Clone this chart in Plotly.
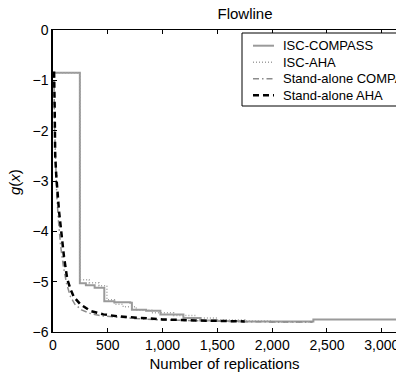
import plotly.graph_objects as go

# ---- data ----
isc_compass_x = [0, 245, 300, 380, 468, 560, 705, 720, 850, 980, 1190, 1343, 1500, 1700, 2376, 3500]
isc_compass_y = [-0.85, -5.03, -5.07, -5.12, -5.39, -5.41, -5.42, -5.56, -5.58, -5.65, -5.72, -5.77, -5.78, -5.79, -5.75, -5.75]

isc_aha_x = [0, 245, 330, 420, 492, 560, 640, 760, 900, 1100, 1300, 1500, 1750, 2000, 2370]
isc_aha_y = [-0.85, -4.96, -5.02, -5.08, -5.36, -5.45, -5.50, -5.57, -5.62, -5.67, -5.72, -5.76, -5.78, -5.80, -5.80]

sa_compass_x = [0, 8, 15, 25, 35, 50, 70, 95, 125, 160, 200, 260, 350, 450, 600, 800, 1000, 1300, 1600, 2000, 2370]
sa_compass_y = [-0.85, -0.85, -2.0, -2.8, -3.3, -3.8, -4.3, -4.7, -5.05, -5.3, -5.45, -5.56, -5.64, -5.68, -5.71, -5.74, -5.76, -5.78, -5.79, -5.80, -5.80]

sa_aha_x = [0, 10, 15, 20, 30, 40, 55, 75, 100, 130, 160, 190, 250, 340, 460, 600, 800, 1000, 1300, 1600, 1750]
sa_aha_y = [-0.85, -0.85, -1.5, -2.5, -2.9, -3.2, -3.6, -4.0, -4.5, -4.95, -5.15, -5.3, -5.45, -5.58, -5.65, -5.69, -5.72, -5.75, -5.77, -5.78, -5.79]

series_names = ["ISC-COMPASS", "ISC-AHA", "Stand-alone COMPASS", "Stand-alone AHA"]
x_ticks = [0, 500, 1000, 1500, 2000, 2500, 3000]
y_ticks = [0, -1, -2, -3, -4, -5, -6]

FONT = "Liberation Sans, Arial, Helvetica, sans-serif"

# figure geometry in pixels
W, H = 396, 374
L, R, T, B = 53, 0, 30, 42
PW, PH = W - L - R, H - T - B


def px_x(p):
    return (p - L) / PW


def px_y(p):
    return (H - B - p) / PH


styles = [
    dict(color="#9a9a9a", width=2, dash="solid"),
    dict(color="#a0a0a0", width=1.5, dash="1px,2px"),
    dict(color="#8c8c8c", width=1.5, dash="6px,3px,1.5px,3px"),
    dict(color="#000000", width=2.5, dash="6px,4px"),
]
shapes_hv = ["hv", "hv", "linear", "linear"]
xs = [isc_compass_x, isc_aha_x, sa_compass_x, sa_aha_x]
ys = [isc_compass_y, isc_aha_y, sa_compass_y, sa_aha_y]

fig = go.Figure()
for name, x, y, st, sh in zip(series_names, xs, ys, styles, shapes_hv):
    fig.add_trace(go.Scatter(x=x, y=y, name=name, mode="lines", showlegend=False,
                             line=dict(color=st["color"], width=st["width"], dash=st["dash"], shape=sh)))

# ---- legend box (drawn manually so that row spacing matches) ----
shapes = [dict(type="rect", xref="paper", yref="paper",
               x0=px_x(242), x1=px_x(430), y0=px_y(106), y1=px_y(33),
               fillcolor="white", line=dict(color="black", width=1), layer="above")]
annotations = []
rows = [45.7, 62.3, 78.8, 95.2]
for name, st, ry in zip(series_names, styles, rows):
    shapes.append(dict(type="line", xref="paper", yref="paper",
                       x0=px_x(253), x1=px_x(274), y0=px_y(ry), y1=px_y(ry),
                       line=dict(color=st["color"], width=st["width"], dash=st["dash"]),
                       layer="above"))
    annotations.append(dict(text=name, xref="paper", yref="paper", x=px_x(281), y=px_y(ry),
                            xanchor="left", yanchor="middle", showarrow=False,
                            font=dict(size=13, color="black")))

# y-axis title placed at the reference's position
annotations.append(dict(text="<i>g</i>(<i>x</i>)", xref="paper", yref="paper",
                        x=px_x(14), y=px_y(182), xanchor="center", yanchor="middle",
                        textangle=-90, showarrow=False, font=dict(size=15, color="black")))

fig.update_layout(
    width=W, height=H,
    margin=dict(l=L, r=R, t=T, b=B, autoexpand=False),
    paper_bgcolor="white", plot_bgcolor="white",
    font=dict(family=FONT, size=14, color="black"),
    title=dict(text="Flowline", x=px_x(245), xref="paper", xanchor="center",
               y=1 - 14 / H, yanchor="middle", font=dict(size=15)),
    shapes=shapes, annotations=annotations,
    showlegend=False,
)
fig.update_xaxes(range=[0, 3130], tickvals=x_ticks, tickformat=",d",
                 ticks="inside", ticklen=4, tickcolor="black", tickfont=dict(size=14),
                 ticklabeloverflow="allow",
                 showline=True, linecolor="black", linewidth=1, mirror="ticks",
                 showgrid=False, zeroline=False,
                 title=dict(text="Number of replications", font=dict(size=15), standoff=6))
fig.update_yaxes(range=[-6, 0], tickvals=y_ticks, tickfont=dict(size=14),
                 ticks="inside", ticklen=4, tickcolor="black",
                 showline=True, linecolor="black", linewidth=1.5, mirror=False,
                 showgrid=False, zeroline=False)

fig.write_html("out.html", config={"displayModeBar": False},
               post_script="document.body.style.margin='0';document.body.style.overflow='hidden';")
